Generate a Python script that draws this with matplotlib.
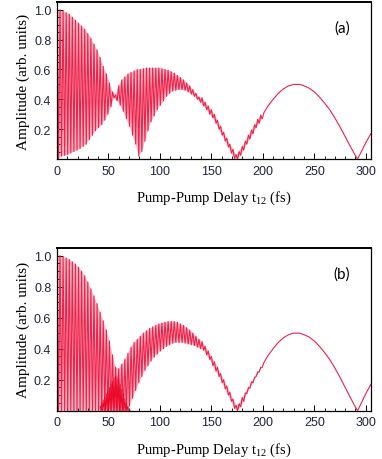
import numpy as np
import matplotlib
matplotlib.use("Agg")
import matplotlib.pyplot as plt
from matplotlib.ticker import MultipleLocator

# fringe period of the fast oscillation (fs), peaks at k*FRINGE, troughs half way
FRINGE = 3.0

# panel (a): upper / lower envelope read at each fringe, t = 0 .. 198 fs
upper_a = [1.00, 1.00, 0.99, 0.98, 0.97, 0.95, 0.93, 0.91, 0.89, 0.87,
           0.84, 0.81, 0.77, 0.73, 0.68, 0.62, 0.57, 0.51, 0.45, 0.43,
           0.49, 0.53, 0.55, 0.57, 0.58, 0.59, 0.60, 0.60, 0.605, 0.61,
           0.61, 0.61, 0.61, 0.61, 0.605, 0.60, 0.595, 0.585, 0.575, 0.56,
           0.545, 0.53, 0.51, 0.49, 0.465, 0.44, 0.415,
           0.41, 0.38, 0.355, 0.33, 0.30, 0.26, 0.22, 0.18, 0.14, 0.10,
           0.065, 0.03, 0.05, 0.085, 0.12, 0.16, 0.195, 0.23, 0.265, 0.295]
lower_a = [0.00, 0.02, 0.025, 0.03, 0.04, 0.05, 0.06, 0.07, 0.085, 0.10,
           0.13, 0.16, 0.19, 0.21, 0.23, 0.26, 0.30, 0.35, 0.41, 0.39,
           0.36, 0.32, 0.27, 0.22, 0.16, 0.10, 0.02, 0.05, 0.12, 0.19,
           0.25, 0.29, 0.33, 0.36, 0.39, 0.42, 0.44, 0.455, 0.46, 0.465,
           0.465, 0.46, 0.45, 0.435, 0.42, 0.40, 0.38,
           0.355, 0.33, 0.30, 0.275, 0.24, 0.20, 0.16, 0.12, 0.08, 0.04,
           0.005, 0.0, 0.025, 0.06, 0.10, 0.135, 0.17, 0.21, 0.24, 0.27]

# panel (b)
upper_b = [1.00, 1.00, 0.99, 0.985, 0.975, 0.96, 0.945, 0.925, 0.90, 0.87,
           0.83, 0.785, 0.74, 0.69, 0.635, 0.58, 0.52, 0.45, 0.36, 0.28,
           0.27, 0.30, 0.33, 0.37, 0.41, 0.44, 0.46, 0.48, 0.50, 0.515,
           0.53, 0.54, 0.55, 0.56, 0.565, 0.57, 0.575, 0.575, 0.575, 0.57,
           0.56, 0.55, 0.535, 0.52, 0.50, 0.48, 0.46,
           0.445, 0.415, 0.385, 0.35, 0.315, 0.28, 0.24, 0.20, 0.16, 0.12,
           0.075, 0.035, 0.045, 0.085, 0.115, 0.15, 0.185, 0.215, 0.25, 0.28]
lower_b = [0.0, 0.0, 0.0, 0.0, 0.0, 0.0, 0.0, 0.0, 0.0, 0.0,
           0.0, 0.0, 0.0, 0.0, 0.0, 0.0, 0.0, 0.0, 0.0, 0.0,
           0.0, 0.0, 0.0, 0.03, 0.08, 0.13, 0.18, 0.22, 0.26, 0.29,
           0.32, 0.345, 0.365, 0.385, 0.40, 0.415, 0.425, 0.435, 0.44, 0.44,
           0.44, 0.435, 0.43, 0.425, 0.42, 0.41, 0.40,
           0.39, 0.36, 0.33, 0.29, 0.255, 0.22, 0.18, 0.14, 0.10, 0.06,
           0.015, 0.0, 0.025, 0.06, 0.11, 0.145, 0.18, 0.22, 0.25, 0.28]

# dense beat region in (b), heights every half fringe from 42 fs
blob_b = [0.03, 0.05, 0.07, 0.09, 0.11, 0.13, 0.15, 0.17, 0.19, 0.21,
          0.22, 0.22, 0.20, 0.17, 0.14, 0.11, 0.08, 0.05, 0.03, 0.01]
BLOB_START = 42.0

# smooth slow part after the fringes die out (same for both panels)
tail_t = [201, 205, 210, 215, 220, 225, 230, 233, 236, 240, 245, 250,
          255, 260, 265, 270, 275, 280, 285, 289, 292, 295, 300, 305]
tail_v = [0.31, 0.355, 0.40, 0.44, 0.47, 0.49, 0.50, 0.50, 0.50, 0.49, 0.475, 0.45,
          0.415, 0.375, 0.33, 0.275, 0.215, 0.15, 0.085, 0.035, 0.0, 0.04, 0.11, 0.17]

RED = '#f0224a'
PINK = '#f8b4c2'
TICK_COL = '#1f2340'


def build_curve(upper, lower):
    # zigzag: peak, trough, peak, ... then the slow tail
    tp = np.arange(len(upper)) * FRINGE
    tt = tp + FRINGE / 2
    t = np.empty(2 * len(upper))
    v = np.empty(2 * len(upper))
    t[0::2], t[1::2] = tp, tt
    v[0::2], v[1::2] = upper, lower
    return tp, tt, np.concatenate([t, tail_t]), np.concatenate([v, tail_v])


def draw_panel(ax, upper, lower):
    tp, tt, t, v = build_curve(upper, lower)
    # pale band between the envelopes, the fringes sit on top of it
    ax.fill(np.concatenate([tp, tt[::-1]]), np.concatenate([upper, lower[::-1]]),
            color=PINK, lw=0)
    ax.plot(t, v, color=RED, lw=0.8)


def style_axes(ax, label):
    ax.set_xlim(0, 305)
    ax.set_ylim(0, 1.05)
    ax.xaxis.set_major_locator(MultipleLocator(50))
    ax.xaxis.set_minor_locator(MultipleLocator(10))
    ax.yaxis.set_minor_locator(MultipleLocator(0.05))
    ax.set_yticks([0.2, 0.4, 0.6, 0.8, 1.0])
    ax.set_yticklabels(['0.2', '0.4', '0.6', '0.8', '1.0'])
    ax.tick_params(which='both', direction='in', colors='black',
                   labelcolor=TICK_COL, labelsize=9, top=False, right=False)
    ax.tick_params(which='major', length=4, width=0.7, pad=4)
    ax.tick_params(which='minor', length=2, width=0.6)
    for lab in ax.get_xticklabels() + ax.get_yticklabels():
        lab.set_family('Liberation Sans')
    for s in ax.spines.values():
        s.set_linewidth(0.9)
        s.set_color('black')
    ax.spines['top'].set_linewidth(1.4)
    ax.set_ylabel('Amplitude (arb. units)', family='Liberation Serif', fontsize=11, labelpad=3)
    ax.set_xlabel('Pump-Pump Delay t$_{12}$ (fs)', family='Liberation Serif', fontsize=10.5, labelpad=9)
    ax.text(0.908, 0.84, label, transform=ax.transAxes, ha='center', va='center',
            family='Lato', fontsize=11)


plt.rcParams['mathtext.fontset'] = 'custom'
plt.rcParams['mathtext.rm'] = 'Liberation Serif'
plt.rcParams['mathtext.it'] = 'Liberation Serif'

fig = plt.figure(figsize=(3.82, 4.60), dpi=100)
ax1 = fig.add_axes([0.149, 0.652, 0.822, 0.341])
ax2 = fig.add_axes([0.149, 0.105, 0.822, 0.354])

draw_panel(ax1, upper_a, lower_a)
style_axes(ax1, '(a)')

draw_panel(ax2, upper_b, lower_b)
# extra beat lines making the dark patch near 57 fs
bt = BLOB_START + np.arange(len(blob_b)) * FRINGE / 2
bx = np.empty(2 * len(blob_b))
by = np.zeros(2 * len(blob_b))
bx[0::2], bx[1::2] = bt, bt + FRINGE / 4
by[0::2] = blob_b
ax2.plot(bx, by, color='#ec0a2c', lw=0.6)
style_axes(ax2, '(b)')

fig.savefig('out.png', dpi=100)
